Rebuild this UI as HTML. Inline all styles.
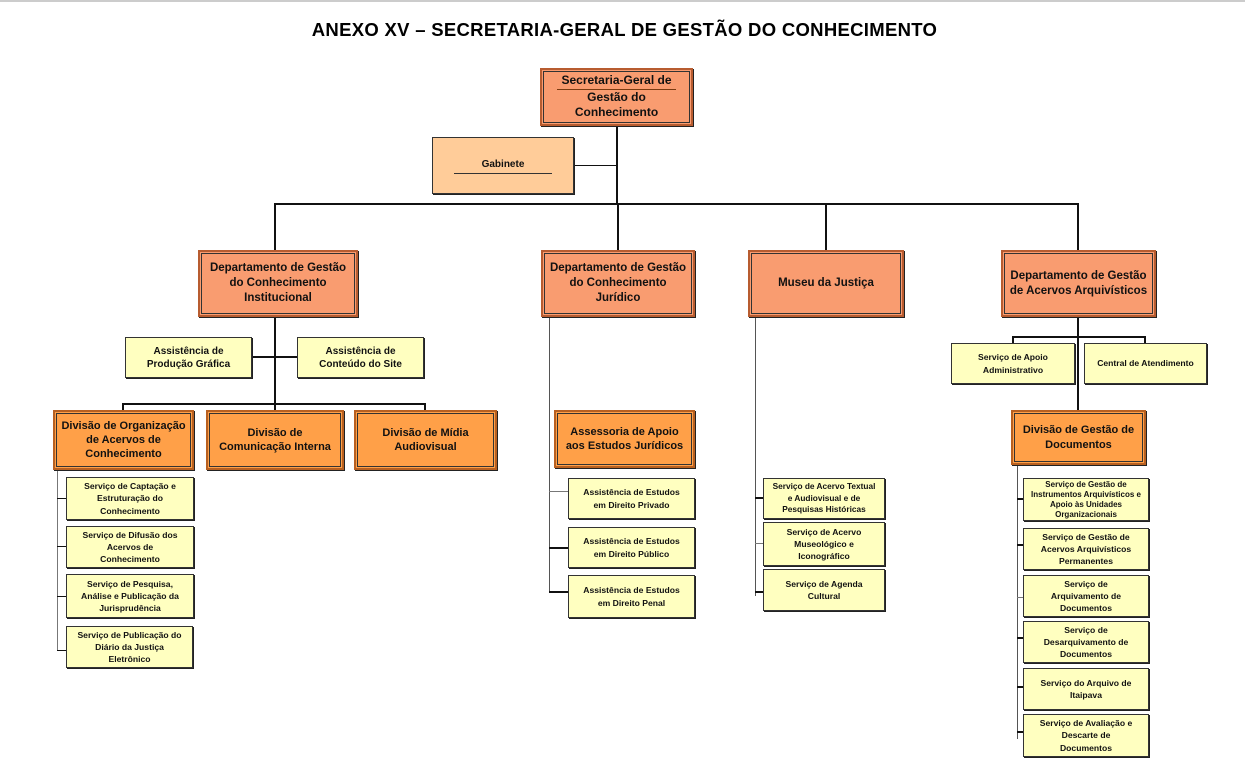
<!DOCTYPE html>
<html><head><meta charset="utf-8"><style>
body{margin:0;width:1245px;height:765px;background:#fff;position:relative;overflow:hidden;font-family:"Liberation Sans",Arial,sans-serif;}
.b{position:absolute;display:flex;align-items:center;justify-content:center;text-align:center;box-sizing:border-box;font-weight:bold;color:#111;border:1px solid #333;box-shadow:1px 1px 0 #222;line-height:1.3;}
.d{background:#F99C70;border:2px solid #B85C30;outline:1px solid #333;outline-offset:-4px;font-size:11.5px;}
.v{background:#FFA048;border:2px solid #B86020;outline:1px solid #333;outline-offset:-4px;font-size:11px;}
.y{background:#FFFFC0;font-size:10px;}
.s{background:#FFFFC0;font-size:8.6px;line-height:1.4;}
.l{position:absolute;background:#111;}
</style></head><body>
<div style="position:absolute;left:0;top:0;width:1245px;height:2px;background:#ccc"></div>
<div style="position:absolute;left:0;width:1249px;top:19px;text-align:center;font-weight:bold;font-size:18.5px;letter-spacing:0.3px">ANEXO XV – SECRETARIA-GERAL DE GESTÃO DO CONHECIMENTO</div>

<!-- lines -->
<div class="l" style="left:616px;top:125px;width:2px;height:80px"></div>
<div class="l" style="left:573px;top:165px;width:44px;height:1px"></div>
<div class="l" style="left:274px;top:203px;width:805px;height:2px"></div>
<div class="l" style="left:274px;top:203px;width:2px;height:47px"></div>
<div class="l" style="left:617px;top:203px;width:2px;height:47px"></div>
<div class="l" style="left:825px;top:203px;width:2px;height:47px"></div>
<div class="l" style="left:1077px;top:203px;width:2px;height:47px"></div>

<div class="l" style="left:274px;top:316px;width:2px;height:90px"></div>
<div class="l" style="left:252px;top:356px;width:45px;height:2px"></div>
<div class="l" style="left:122px;top:403px;width:304px;height:2px"></div>
<div class="l" style="left:122px;top:403px;width:2px;height:8px"></div>
<div class="l" style="left:274px;top:403px;width:2px;height:8px"></div>
<div class="l" style="left:424px;top:403px;width:2px;height:8px"></div>
<div class="l" style="left:57px;top:469px;width:1px;height:182px;background:#777"></div>
<div class="l" style="left:57px;top:498px;width:9px;height:1px"></div>
<div class="l" style="left:57px;top:546px;width:9px;height:1px"></div>
<div class="l" style="left:57px;top:596px;width:9px;height:1px"></div>
<div class="l" style="left:57px;top:650px;width:9px;height:1px"></div>

<div class="l" style="left:549px;top:316px;width:1px;height:276px;background:#555"></div>
<div class="l" style="left:549px;top:491px;width:19px;height:1px;background:#777"></div>
<div class="l" style="left:549px;top:547px;width:19px;height:2px"></div>
<div class="l" style="left:549px;top:591px;width:19px;height:2px"></div>

<div class="l" style="left:755px;top:316px;width:1px;height:280px;background:#555"></div>
<div class="l" style="left:755px;top:497px;width:8px;height:2px"></div>
<div class="l" style="left:755px;top:543px;width:8px;height:1px;background:#777"></div>
<div class="l" style="left:755px;top:591px;width:8px;height:2px"></div>

<div class="l" style="left:1077px;top:316px;width:2px;height:94px"></div>
<div class="l" style="left:1012px;top:336px;width:134px;height:2px"></div>
<div class="l" style="left:1012px;top:336px;width:2px;height:8px"></div>
<div class="l" style="left:1144px;top:336px;width:2px;height:8px"></div>
<div class="l" style="left:1017px;top:464px;width:1px;height:275px;background:#555"></div>
<div class="l" style="left:1017px;top:498px;width:6px;height:2px"></div>
<div class="l" style="left:1017px;top:544px;width:6px;height:2px"></div>
<div class="l" style="left:1017px;top:597px;width:6px;height:1px;background:#777"></div>
<div class="l" style="left:1017px;top:637px;width:6px;height:2px"></div>
<div class="l" style="left:1017px;top:686px;width:6px;height:2px"></div>
<div class="l" style="left:1017px;top:731px;width:6px;height:2px"></div>

<!-- boxes -->
<div class="b d" style="left:540px;top:68px;width:153px;height:58px;font-size:12px;flex-direction:column"><span style="border-bottom:1px solid #7a3a10;padding:0 4px">Secretaria-Geral de</span><span>Gestão do</span><span>Conhecimento</span></div>
<div class="b" style="left:432px;top:137px;width:142px;height:57px;background:#FFCC99;font-size:10px;"><span style="border-bottom:1px solid #333;padding:0 28px 2px">Gabinete</span></div>

<div class="b d" style="left:198px;top:250px;width:160px;height:67px">Departamento de Gestão<br>do Conhecimento<br>Institucional</div>
<div class="b d" style="left:541px;top:250px;width:154px;height:67px">Departamento de Gestão<br>do Conhecimento<br>Jurídico</div>
<div class="b d" style="left:748px;top:250px;width:156px;height:67px">Museu da Justiça</div>
<div class="b d" style="left:1001px;top:250px;width:155px;height:67px">Departamento de Gestão<br>de Acervos Arquivísticos</div>

<div class="b y" style="left:125px;top:337px;width:127px;height:41px">Assistência de<br>Produção Gráfica</div>
<div class="b y" style="left:297px;top:337px;width:127px;height:41px">Assistência de<br>Conteúdo do Site</div>

<div class="b v" style="left:53px;top:410px;width:141px;height:60px">Divisão de Organização<br>de Acervos de<br>Conhecimento</div>
<div class="b v" style="left:206px;top:410px;width:138px;height:60px">Divisão de<br>Comunicação Interna</div>
<div class="b v" style="left:354px;top:410px;width:143px;height:60px">Divisão de Mídia<br>Audiovisual</div>

<div class="b s" style="left:66px;top:477px;width:128px;height:43px">Serviço de Captação e<br>Estruturação do<br>Conhecimento</div>
<div class="b s" style="left:66px;top:526px;width:128px;height:42px">Serviço de Difusão dos<br>Acervos de<br>Conhecimento</div>
<div class="b s" style="left:66px;top:574px;width:128px;height:44px">Serviço de Pesquisa,<br>Análise e Publicação da<br>Jurisprudência</div>
<div class="b s" style="left:66px;top:626px;width:127px;height:42px">Serviço de Publicação do<br>Diário da Justiça<br>Eletrônico</div>

<div class="b v" style="left:554px;top:410px;width:141px;height:58px">Assessoria de Apoio<br>aos Estudos Jurídicos</div>
<div class="b s" style="left:568px;top:478px;width:127px;height:41px">Assistência de Estudos<br>em Direito Privado</div>
<div class="b s" style="left:568px;top:527px;width:127px;height:41px">Assistência de Estudos<br>em Direito Público</div>
<div class="b s" style="left:568px;top:575px;width:127px;height:43px">Assistência de Estudos<br>em Direito Penal</div>

<div class="b s" style="left:763px;top:478px;width:122px;height:41px;font-size:8.3px">Serviço de Acervo Textual<br>e Audiovisual e de<br>Pesquisas Históricas</div>
<div class="b s" style="left:763px;top:522px;width:122px;height:44px">Serviço de Acervo<br>Museológico e<br>Iconográfico</div>
<div class="b s" style="left:763px;top:569px;width:122px;height:42px">Serviço de Agenda<br>Cultural</div>

<div class="b s" style="left:951px;top:343px;width:124px;height:41px">Serviço de Apoio<br>Administrativo</div>
<div class="b s" style="left:1084px;top:343px;width:123px;height:41px">Central de Atendimento</div>
<div class="b v" style="left:1011px;top:410px;width:135px;height:55px">Divisão de Gestão de<br>Documentos</div>

<div class="b s" style="left:1023px;top:478px;width:126px;height:43px;font-size:8px;line-height:1.25">Serviço de Gestão de<br>Instrumentos Arquivísticos e<br>Apoio às Unidades<br>Organizacionais</div>
<div class="b s" style="left:1023px;top:528px;width:126px;height:42px">Serviço de Gestão de<br>Acervos Arquivísticos<br>Permanentes</div>
<div class="b s" style="left:1023px;top:575px;width:126px;height:42px">Serviço de<br>Arquivamento de<br>Documentos</div>
<div class="b s" style="left:1023px;top:621px;width:126px;height:42px">Serviço de<br>Desarquivamento de<br>Documentos</div>
<div class="b s" style="left:1023px;top:668px;width:126px;height:42px">Serviço do Arquivo de<br>Itaipava</div>
<div class="b s" style="left:1023px;top:714px;width:126px;height:43px">Serviço de Avaliação e<br>Descarte de<br>Documentos</div>
</body></html>
